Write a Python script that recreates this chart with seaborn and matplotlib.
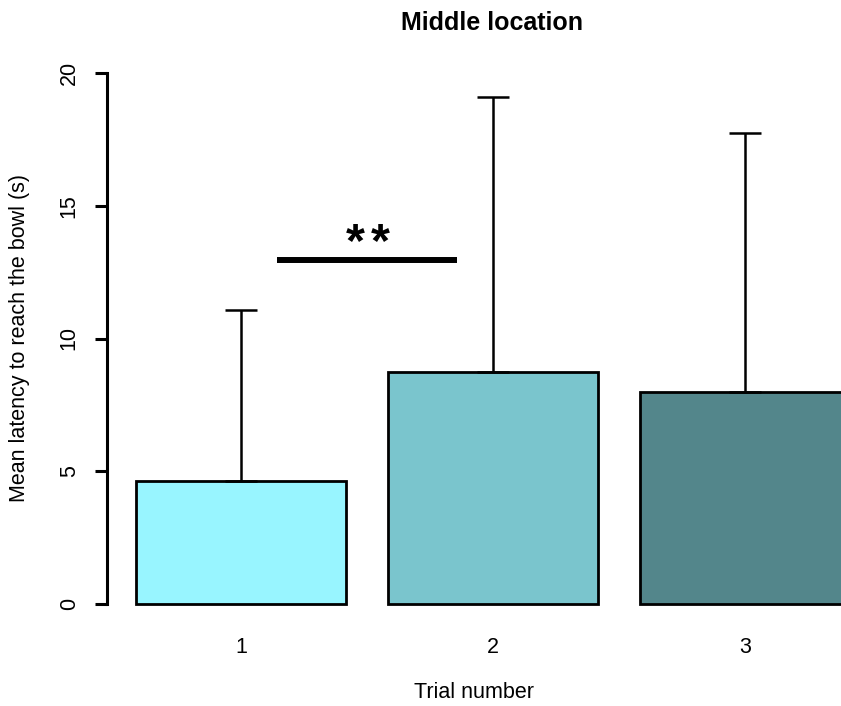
import matplotlib
matplotlib.use("Agg")
import matplotlib.pyplot as plt
import seaborn as sns

# values
trials = ["1", "2", "3"]
mean_latency = [4.63, 8.74, 7.98]
sd_latency = [6.44, 10.36, 9.76]
bar_colors = ["#98F5FF", "#7AC5CD", "#53868B"]
sig_pair = (0, 1)
sig_height = 12.96
sig_label = "**"

sns.set_style("ticks")
plt.rcParams["font.family"] = ["Liberation Sans", "DejaVu Sans"]
plt.rcParams["text.color"] = "black"
plt.rcParams["axes.labelcolor"] = "black"
plt.rcParams["xtick.color"] = "black"
plt.rcParams["ytick.color"] = "black"

W, H = 841, 706
fig = plt.figure(figsize=(W / 100, H / 100), dpi=100)
# axes box in pixels: left 107, right 841, top 73, bottom 604
ax = fig.add_axes([107 / W, (H - 604) / H, (W - 107) / W, (604 - 73) / H])

sns.barplot(x=trials, y=mean_latency, hue=trials, palette=bar_colors, legend=False,
            width=210 / 252, edgecolor="black", linewidth=2.0, saturation=1, ax=ax)
for p in ax.patches:
    p.set_clip_on(False)

# upward-only error bars
ax.errorbar(range(len(trials)), mean_latency, yerr=[[0] * len(trials), sd_latency],
            fmt="none", ecolor="black", elinewidth=1.8, capsize=11.5, capthick=1.8,
            clip_on=False, zorder=1)

# significance bracket
x0, x1 = sig_pair
ax.plot([x0 + 0.143, x1 - 0.143], [sig_height, sig_height], color="black", lw=4.3,
        solid_capstyle="butt")
# stars drawn one by one so they sit a little apart, as in the reference
mid = (x0 + x1) / 2 + 0.004
n = len(sig_label)
for i, ch in enumerate(sig_label):
    ax.text(mid + (i - (n - 1) / 2) * 0.098, sig_height + 0.16, ch, ha="center",
            va="baseline", fontsize=35, fontweight="bold")

ax.set_xlim(-(241 - 107) / 252, (W - 241) / 252)
ax.set_ylim(0, 20)
ax.set_yticks([0, 5, 10, 15, 20])
ax.tick_params(axis="y", length=8.6, width=2.2, pad=11, labelsize=15.5)
for lbl in ax.get_yticklabels():
    lbl.set_rotation(90)
    lbl.set_va("center")
ax.tick_params(axis="x", length=0, pad=24, labelsize=15.5)

sns.despine(ax=ax, bottom=True, right=True, top=True)
ax.spines["left"].set_linewidth(2.2)
ax.spines["left"].set_color("black")

ax.set_xlabel("Trial number", fontsize=15.5, labelpad=17)
ax.set_ylabel("Mean latency to reach the bowl (s)", fontsize=15.5, labelpad=21)
fig.text(492 / W, 1 - 23 / H, "Middle location", ha="center", va="center",
         fontsize=18, fontweight="bold")

fig.savefig("out.png", dpi=100)
